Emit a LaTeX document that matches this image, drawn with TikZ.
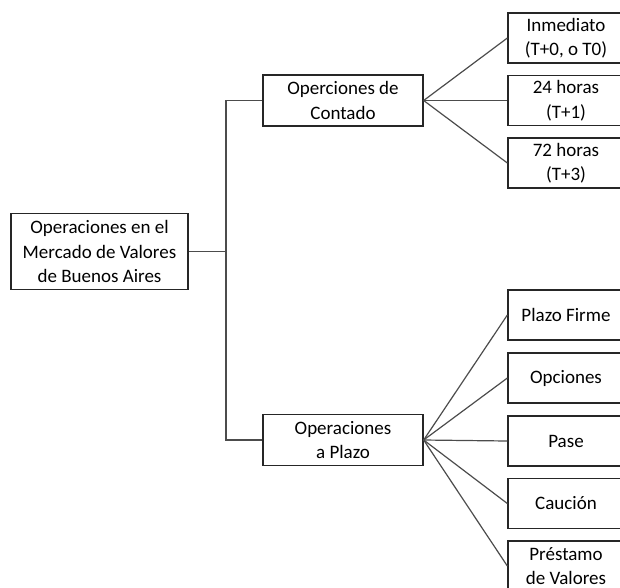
\documentclass[tikz,border=0pt]{standalone}
\usepackage{fontspec}
\setmainfont{Carlito}
\usepackage{tikz}

\begin{document}
\begin{tikzpicture}[x=1pt,y=-1pt,
    box/.style={rectangle, draw=black!85, line width=1.3pt, align=center, inner sep=0pt,
      font=\fontsize{19}{24.5}\selectfont},
    root node/.style={box, minimum width=177pt, minimum height=76pt},
    mid node/.style={box, minimum width=160pt, minimum height=51pt},
    leaf node/.style={box, minimum width=116pt, minimum height=50pt},
    link/.style={draw=black!70, line width=1.2pt}]
      \clip (0,0) rectangle (620,587);
      % Nodes
      \node[root node] (root) at (99.5,251.5) {Operaciones en el\\Mercado de Valores\\de Buenos Aires};
      \node[mid node] (contado) at (343,100.5) {Operciones de\\Contado};
      \node[mid node] (plazo) at (343,440) {Operaciones\\a Plazo};

      \node[leaf node] (inm) at (566,38) {Inmediato\\(T+0, o T0)};
      \node[leaf node] (h24) at (566,100.5) {24 horas\\(T+1)};
      \node[leaf node] (h72) at (566,163) {72 horas\\(T+3)};

      \node[leaf node] (firme) at (566,315) {Plazo Firme};
      \node[leaf node] (opc) at (566,378) {Opciones};
      \node[leaf node] (pase) at (566,441) {Pase};
      \node[leaf node] (caucion) at (566,503.5) {Cauci\'on};
      \node[leaf node] (prest) at (566,566) {Pr\'estamo\\de Valores};

      \coordinate (split) at (226,251.5);

      \draw[link] (root.east) -- (split) |- (contado.west);
      \draw[link] (split) |- (plazo.west);

      \path[link]
      (contado.east)
      edge (inm.west)
      edge (h24.west)
      edge (h72.west)

      (plazo.east)
      edge (firme.west)
      edge (opc.west)
      edge (pase.west)
      edge (caucion.west)
      edge (prest.west);

\end{tikzpicture}
\end{document}
